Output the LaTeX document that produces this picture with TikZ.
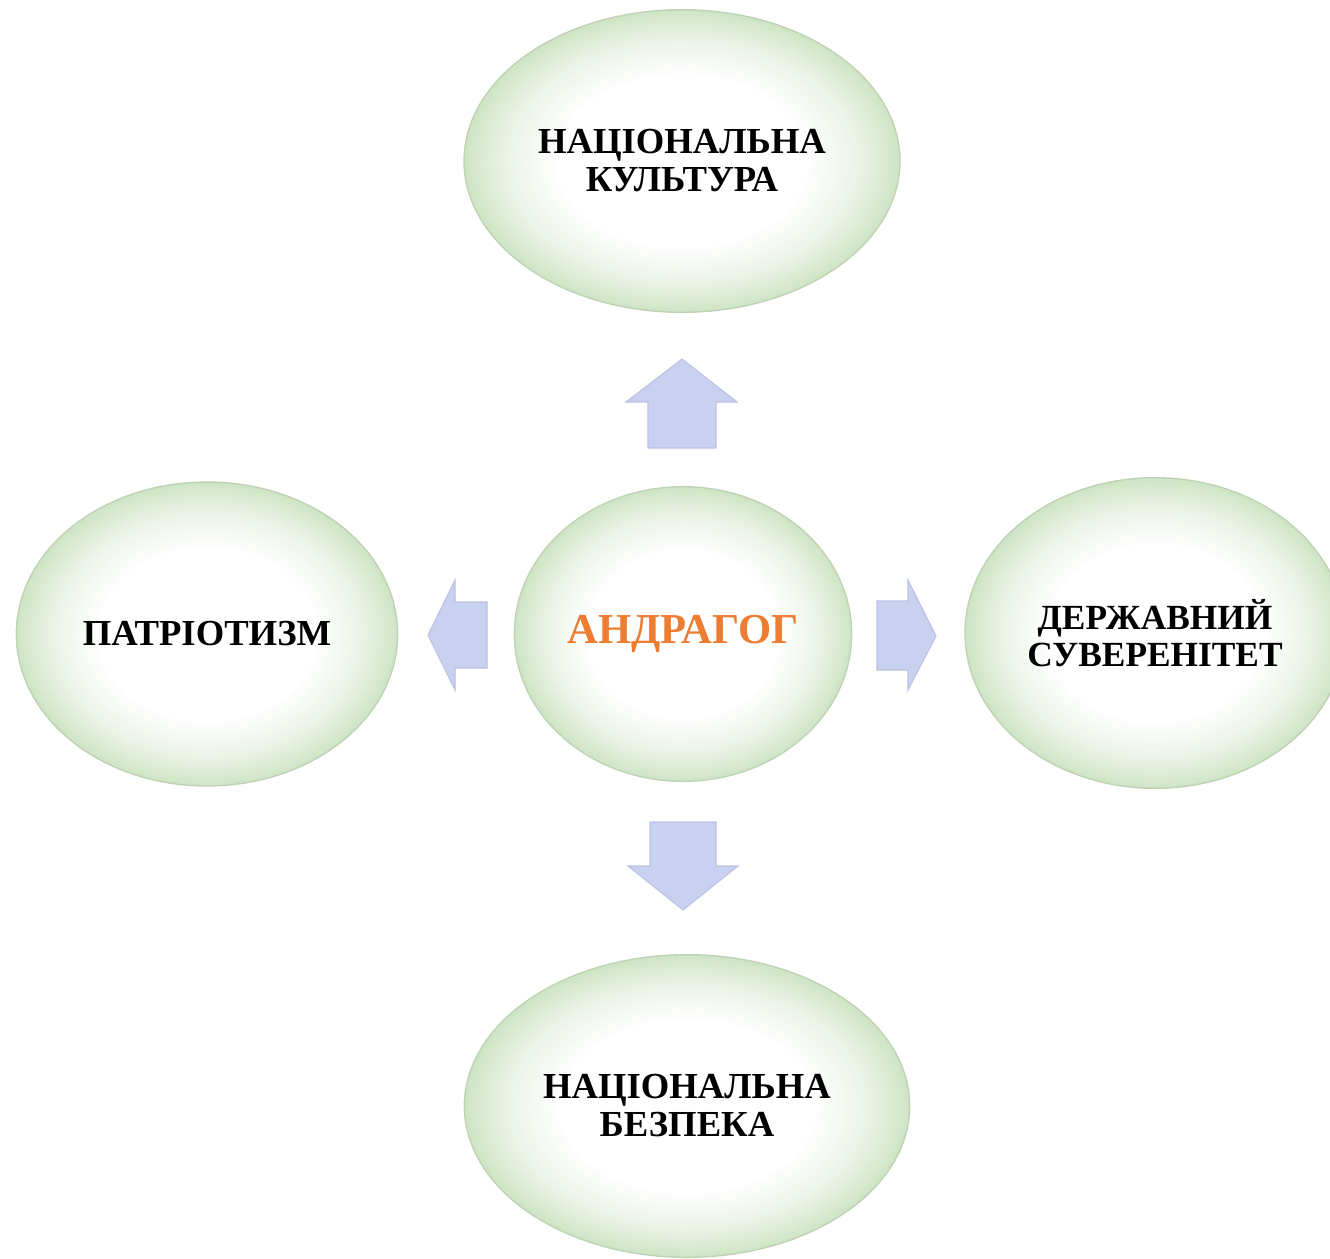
\documentclass[tikz,border=0pt]{standalone}
\usepackage{fontspec}
\setmainfont{Liberation Serif}
\usetikzlibrary{shadings,shapes.geometric}
\definecolor{edgegreen}{RGB}{206,228,196}
\definecolor{rimgreen}{RGB}{190,210,180}
\definecolor{arrowfill}{RGB}{201,208,240}
\definecolor{arrowrim}{RGB}{186,195,230}
\definecolor{andragog}{RGB}{237,125,49}
\pgfdeclareradialshading{glow}{\pgfpoint{0bp}{0bp}}{%
  color(0bp)=(white); color(14bp)=(white); color(20bp)=(edgegreen!40); color(23.5bp)=(edgegreen!80); color(25bp)=(edgegreen); color(50bp)=(edgegreen)}
\tikzset{
  ell/.style={ellipse, shading=glow, draw=rimgreen, line width=1pt, inner sep=0pt,
    align=center, font=\bfseries\fontsize{27.5}{28.5}\selectfont},
  blockarrow/.style={fill=arrowfill, draw=arrowrim, line width=0.8pt, line join=miter},
}
\begin{document}
\begin{tikzpicture}[x=0.75pt, y=-0.75pt]
\useasboundingbox (0,0) rectangle (1330,1258);
\begin{scope}
\clip (0,0) rectangle (1330,1258);
\node[ell, minimum width=327pt, minimum height=227pt] (kult) at (682,161) {НАЦІОНАЛЬНА\\КУЛЬТУРА};
\node[ell, minimum width=286pt, minimum height=228pt] (patr) at (207,634) {ПАТРІОТИЗМ};
\node[ell, minimum width=253pt, minimum height=221pt, text=andragog, font=\bfseries\fontsize{32}{33}\selectfont] (andr) at (683,634) {АНДРАГОГ};
\node[ell, minimum width=285pt, minimum height=233pt, font=\bfseries\fontsize{26.5}{27.5}\selectfont] (suv) at (1155,633) {ДЕРЖАВНИЙ\\СУВЕРЕНІТЕТ};
\node[ell, minimum width=334pt, minimum height=227pt] (bezp) at (687,1106) {НАЦІОНАЛЬНА\\БЕЗПЕКА};
\end{scope}
% up arrow
\draw[blockarrow] (682,359) -- (737,402) -- (716,402) -- (716,448) -- (648,448) -- (648,402) -- (626,402) -- cycle;
% down arrow
\draw[blockarrow] (683,910) -- (738,866) -- (716,866) -- (716,822) -- (650,822) -- (650,866) -- (628,866) -- cycle;
% left arrow
\draw[blockarrow] (428,635) -- (455,580) -- (455,602) -- (487,602) -- (487,668) -- (455,668) -- (455,690) -- cycle;
% right arrow
\draw[blockarrow] (936,636) -- (908,580) -- (908,601) -- (877,601) -- (877,670) -- (908,670) -- (908,690) -- cycle;
\end{tikzpicture}
\end{document}
